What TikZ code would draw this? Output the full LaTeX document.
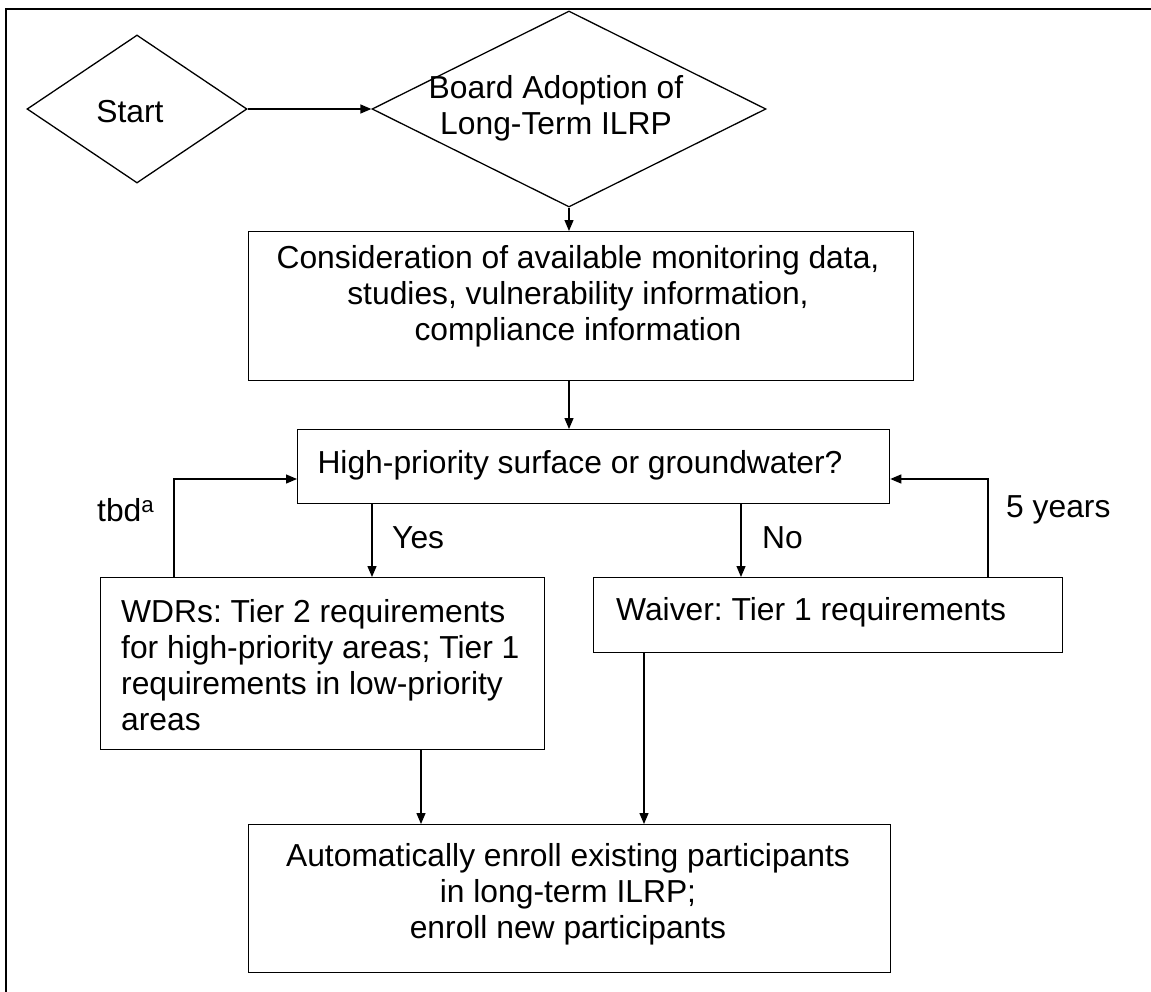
\documentclass[tikz,border=0pt]{standalone}
\usepackage{fontspec}
\setmainfont{Liberation Sans}
\usetikzlibrary{shapes.geometric,arrows.meta}
\frenchspacing
\begin{document}
\begin{tikzpicture}[x=1pt,y=-1pt,
  outl/.style={draw, line width=1.3pt, inner sep=0pt},
  dia/.style={outl, diamond},
  box/.style={outl, rectangle, anchor=north west},
  txt/.style={inner sep=0pt, font=\fontsize{31.8}{36}\selectfont\frenchspacing, align=center},
  arr/.style={line width=1.3pt, -{Triangle[length=11pt,width=9pt]}},
  ln/.style={line width=1.3pt},
  framel/.style={line width=2.2pt}]
\useasboundingbox (0,0) rectangle (1151,991);
% frame
\coordinate (fbl) at (6,995);
\coordinate (ftl) at (6,9);
\coordinate (ftr) at (1155,9);
\draw[framel] (fbl) -- (ftl) -- (ftr);
% shapes
\node[dia, minimum width=220pt, minimum height=148pt] (start) at (137,109) {};
\node[dia, minimum width=394pt, minimum height=196pt] (board) at (569,109) {};
\node[box, minimum width=665pt, minimum height=149pt] (cons) at (248,231) {};
\node[box, minimum width=592pt, minimum height=74pt] (high) at (297,429) {};
\node[box, minimum width=444pt, minimum height=172pt] (wdr) at (100,577) {};
\node[box, minimum width=469pt, minimum height=75pt] (waiver) at (593,577) {};
\node[box, minimum width=642pt, minimum height=148pt] (auto) at (248,824) {};
% texts
\node[txt] (tstart) at (130,112) {Start};
\node[txt] (tboard) at (556,108) {Board Adoption of\\Long-Term ILRP};
\node[txt] (tcons) at (578,296) {Consideration of available monitoring data,\\studies, vulnerability information,\\compliance information};
\node[txt] (thigh) at (580,465) {High-priority surface or groundwater?};
\node[txt, align=left, anchor=west] (twdr) at (121,665) {WDRs: Tier 2 requirements\\for high-priority areas; Tier 1\\requirements in low-priority\\areas};
\node[txt, anchor=west] (twaiver) at (616,612) {Waiver: Tier 1 requirements};
\node[txt] (tauto) at (568,894) {Automatically enroll existing participants\\in long-term ILRP;\\enroll new participants};
% labels
\node[txt, anchor=west] (lyes) at (392,538) {Yes};
\node[txt, anchor=west] (lno) at (762,538) {No};
\node[txt, anchor=west] (ltbd) at (97,510) {tbd\textsuperscript{a}};
\node[txt, anchor=west] (lfive) at (1006,510) {5 years};
% connector helper coordinates
\coordinate (yesx) at (372,0);
\coordinate (nox) at (741,0);
\coordinate (tbdx) at (174,0);
\coordinate (fivex) at (988,0);
\coordinate (loopy) at (0,479);
\coordinate (wdrx) at (421,0);
\coordinate (waivx) at (644,0);
% connectors
\draw[arr] (start.east) -- (board.west);
\draw[arr] (board.south) -- (board.south |- cons.north);
\draw[arr] (board.south |- cons.south) -- (board.south |- high.north);
\draw[arr] (yesx |- high.south) -- (yesx |- wdr.north);
\draw[arr] (nox |- high.south) -- (nox |- waiver.north);
\draw[arr] (tbdx |- wdr.north) -- (tbdx |- loopy) -- (high.west |- loopy);
\draw[arr] (fivex |- waiver.north) -- (fivex |- loopy) -- (high.east |- loopy);
\draw[arr] (wdrx |- wdr.south) -- (wdrx |- auto.north);
\draw[arr] (waivx |- waiver.south) -- (waivx |- auto.north);
\end{tikzpicture}
\end{document}
